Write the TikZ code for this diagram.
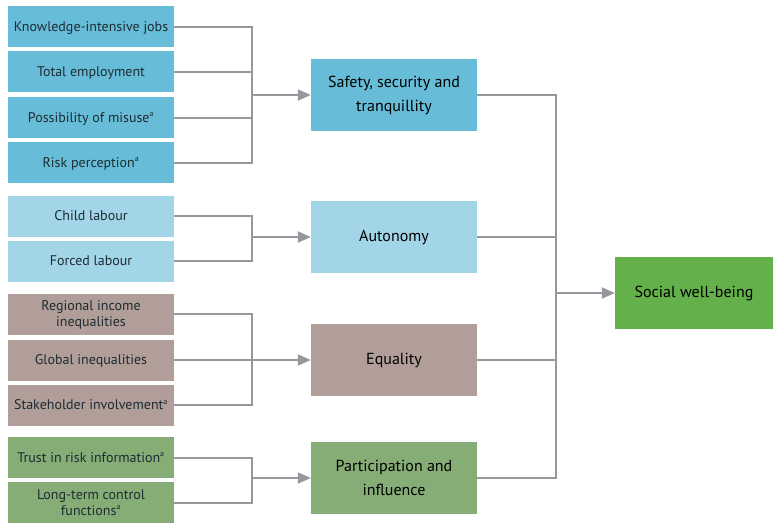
\documentclass[tikz,border=0pt]{standalone}
\usepackage{fontspec}
\setmainfont{PT Sans}
\usetikzlibrary{arrows.meta}
\definecolor{cblue}{HTML}{67BDD8}
\definecolor{clblue}{HTML}{A3D5E8}
\definecolor{ctaupe}{HTML}{B19E98}
\definecolor{cgreen}{HTML}{86AD76}
\definecolor{csoc}{HTML}{64B04A}
\definecolor{cline}{HTML}{95989C}
\definecolor{ctext}{HTML}{1E2B33}
\tikzset{
  leftbox/.style={minimum width=166pt, minimum height=41pt, inner sep=0pt, align=center, text=ctext, text depth=0.5pt, font=\fontsize{14}{16}\selectfont},
  midbox/.style={minimum width=166pt, minimum height=72pt, inner sep=0pt, align=center, text=black, font=\fontsize{16}{24}\selectfont},
  conn/.style={draw=cline, line width=2pt},
  arr/.style={draw=cline, line width=2pt, -{Triangle[length=13pt,width=11pt]}},
}
\newcommand{\supa}{\textsuperscript{\fontsize{8}{8}\selectfont a}}
\begin{document}
\begin{tikzpicture}[x=1pt,y=-1pt]
\useasboundingbox (0,0) rectangle (774,523);
% left boxes
\node[leftbox, fill=cblue] (k1) at (91,26.5) {Knowledge-intensive jobs};
\node[leftbox, fill=cblue] (k2) at (91,71.5) {Total employment};
\node[leftbox, fill=cblue] (k3) at (91,117.5) {Possibility of misuse\supa};
\node[leftbox, fill=cblue] (k4) at (91,162.5) {Risk perception\supa};
\node[leftbox, fill=clblue] (a1) at (91,216) {Child labour};
\node[leftbox, fill=clblue] (a2) at (91,261) {Forced labour};
\node[leftbox, fill=ctaupe] (e1) at (91,314) {Regional income\\inequalities};
\node[leftbox, fill=ctaupe] (e2) at (91,360) {Global inequalities};
\node[leftbox, fill=ctaupe] (e3) at (91,405) {Stakeholder involvement\supa};
\node[leftbox, fill=cgreen] (p1) at (91,457.5) {Trust in risk information\supa};
\node[leftbox, fill=cgreen] (p2) at (91,502.5) {Long-term control\\functions\supa};
% middle boxes
\node[midbox, fill=cblue] (s1) at (394,95) {Safety, security and\\tranquillity};
\node[midbox, fill=clblue] (s2) at (394,237) {Autonomy};
\node[midbox, fill=ctaupe] (s3) at (394,360) {Equality};
\node[midbox, fill=cgreen] (s4) at (394,478) {Participation and\\influence};
% result
\node[midbox, minimum width=158pt, fill=csoc] (soc) at (694,293) {Social well-being};
% junctions
\coordinate (jx) at (252,0);
\coordinate (tx) at (556,0);
% group 1
\draw[conn] (k1.east) -- (k1.east -| jx) -- (k4.east -| jx) -- (k4.east);
\draw[conn] (k2.east) -- (k2.east -| jx);
\draw[conn] (k3.east) -- (k3.east -| jx);
\draw[arr] (s1.west -| jx) -- (s1.west);
% group 2
\draw[conn] (a1.east) -- (a1.east -| jx) -- (a2.east -| jx) -- (a2.east);
\draw[arr] (s2.west -| jx) -- (s2.west);
% group 3
\draw[conn] (e1.east) -- (e1.east -| jx) -- (e3.east -| jx) -- (e3.east);
\draw[conn] (e2.east) -- (e2.east -| jx);
\draw[arr] (s3.west -| jx) -- (s3.west);
% group 4
\draw[conn] (p1.east) -- (p1.east -| jx) -- (p2.east -| jx) -- (p2.east);
\draw[arr] (s4.west -| jx) -- (s4.west);
% trunk
\draw[conn] (s1.east) -- (s1.east -| tx) -- (s4.east -| tx) -- (s4.east);
\draw[conn] (s2.east) -- (s2.east -| tx);
\draw[conn] (s3.east) -- (s3.east -| tx);
\draw[arr] (soc.west -| tx) -- (soc.west);
\end{tikzpicture}
\end{document}
